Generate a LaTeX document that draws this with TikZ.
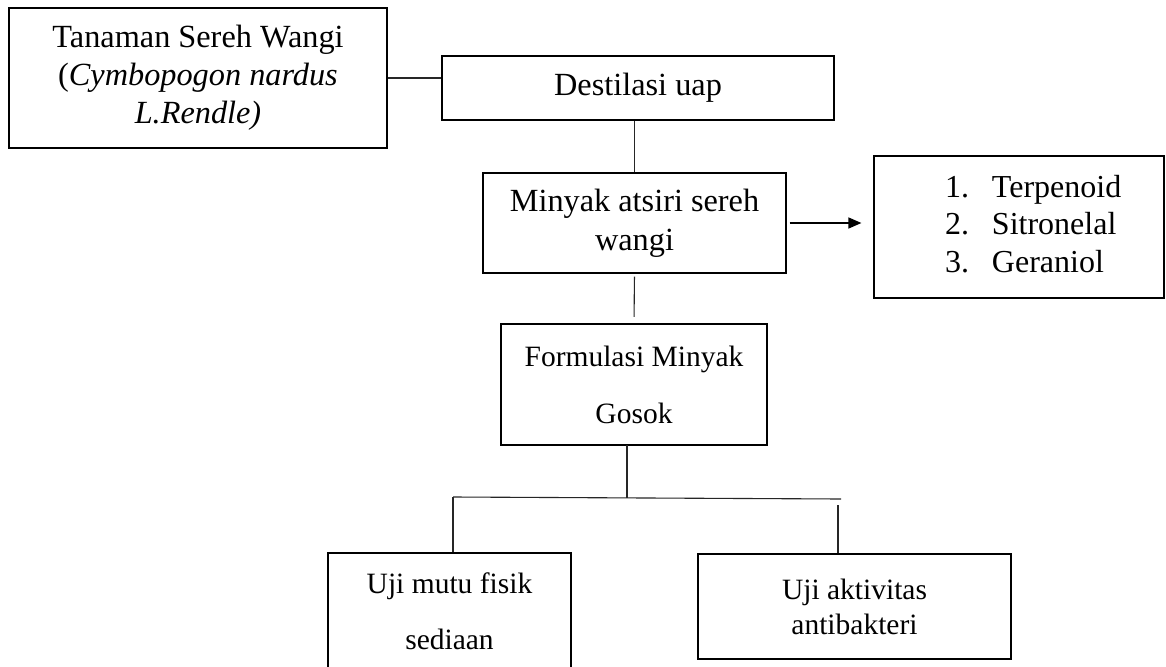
\documentclass[tikz,border=0pt]{standalone}
\usepackage{fontspec}
\setmainfont{Liberation Serif}
\usetikzlibrary{arrows.meta}
\tikzset{
  box/.style={draw=black, line width=1.2pt, inner sep=0pt, align=center, anchor=center},
  thickbox/.style={box, line width=2.5pt},
  big/.style={font=\fontsize{32.3}{38}\selectfont},
  small/.style={font=\fontsize{29.5}{57}\selectfont},
  conn/.style={draw=black!85, line width=1.1pt},
}
\begin{document}
\begin{tikzpicture}[x=1pt,y=-1pt]
\useasboundingbox (0,0) rectangle (1166,666);
\fill[white] (0,0) rectangle (1166,666);
\clip (0,0) rectangle (1166,666);

\node[thickbox, big, minimum width=378pt, minimum height=140pt] (tl) at (198,78)
  {Tanaman Sereh Wangi\\(\textit{Cymbopogon nardus}\\\textit{L.Rendle)}};
\node[box, big, minimum width=392pt, minimum height=64pt] (ds) at (638,88) {Destilasi uap};
\node[box, font=\fontsize{32.3}{39}\selectfont, minimum width=303pt, minimum height=100pt] (my) at (634.5,223)
  {Minyak atsiri sereh\\wangi};
\node[box, font=\fontsize{32}{37.5}\selectfont, minimum width=290pt, minimum height=142pt, text width=290pt, align=left] (rl) at (1019,227)
  {\begin{tabular}{@{\hspace{71pt}}p{47pt}@{}l@{}}1. & Terpenoid\\2. & Sitronelal\\3. & Geraniol\end{tabular}};
\node[thickbox, small, minimum width=266pt, minimum height=121pt] (fm) at (634,384.5)
  {Formulasi Minyak\\Gosok};
\node[box, font=\fontsize{29.5}{56}\selectfont, minimum width=243pt, minimum height=117pt] (bl) at (449.5,611.5)
  {Uji mutu fisik\\sediaan};
\node[box, font=\fontsize{29.5}{35}\selectfont, minimum width=313pt, minimum height=105pt] (br) at (854.5,606.5)
  {Uji aktivitas\\antibakteri};

% connectors
\draw[conn] (tl.east) -- (tl.east -| ds.west);
\draw[conn] (my.north) -- (my.north |- ds.south);
\draw[conn, shorten <=3pt, shorten >=6pt] (my.south) -- (fm.north);
\draw[line width=1.4pt, -{Triangle[length=13pt,width=11pt]}, shorten <=3pt, shorten >=12pt] (my.east) -- (my.east -| rl.west);

\coordinate (fmb) at (627,445);
\coordinate (hj) at (627,498);
\coordinate (hl) at (453,497);
\coordinate (hr) at (841,499);
\coordinate (rt) at (838,505);
\draw[conn] (fmb) -- (hj);
\draw[conn] (hl) -- (hr);
\draw[conn] (hl) -- (hl |- bl.north);
\draw[conn] (rt) -- (rt |- br.north);
\end{tikzpicture}
\end{document}
